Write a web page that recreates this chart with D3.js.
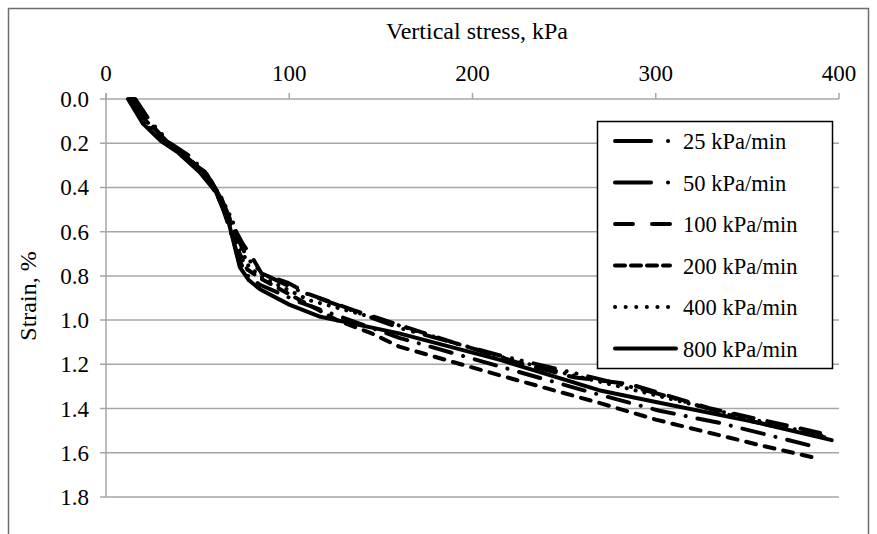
<!DOCTYPE html>
<html>
<head>
<meta charset="utf-8">
<script src="https://cdn.jsdelivr.net/npm/d3@7"></script>
<style>
body { margin: 0; background: #fff; }
</style>
</head>
<body>
<div id="chart"></div>
<script>
let WIDTH = 877;
let HEIGHT = 534;

var xTicks = [0, 100, 200, 300, 400];
var yTicks = [0, 0.2, 0.4, 0.6, 0.8, 1.0, 1.2, 1.4, 1.6, 1.8];
var seriesNames = ["25 kPa/min", "50 kPa/min", "100 kPa/min", "200 kPa/min", "400 kPa/min", "800 kPa/min"];

// [vertical stress kPa, strain %]
var s25 = [[14,0],[22,0.12],[33,0.19],[44,0.27],[54,0.33],[62,0.45],[68,0.6],[72,0.71],[76,0.79],[84,0.84],[106,0.92],[160,1.08],[215,1.21],[266,1.33],[302,1.41],[335,1.465],[388,1.575]];
var s50 = [[16,0],[24,0.1],[35,0.2],[46,0.26],[56,0.35],[64,0.47],[70,0.6],[76,0.7],[80,0.75],[88,0.8],[106,0.87],[160,1.035],[215,1.16],[266,1.26],[300,1.33],[351,1.455],[392,1.53]];
var s100 = [[15,0],[23,0.1],[34,0.2],[45,0.27],[55,0.34],[63,0.45],[69,0.57],[75,0.66],[80,0.72],[85,0.79],[99,0.83],[110,0.88],[135,0.955],[191,1.105],[224,1.19],[255,1.258],[286,1.29],[330,1.4],[395,1.52]];
var s200 = [[14,0],[22,0.1],[32,0.18],[42,0.26],[52,0.32],[61,0.44],[68,0.57],[73,0.7],[77,0.77],[84,0.81],[95,0.86],[106,0.91],[126,1.0],[145,1.06],[160,1.12],[215,1.25],[269,1.374],[300,1.45],[357,1.566],[388,1.625]];
var s400 = [[13,0],[21,0.1],[31,0.19],[43,0.25],[53,0.33],[62,0.43],[69,0.55],[74,0.68],[78,0.76],[86,0.81],[111,0.91],[151,1.0],[177,1.07],[213,1.16],[243,1.226],[300,1.34],[351,1.445],[392,1.525]];
var s800 = [[12,0],[20,0.11],[30,0.19],[39,0.24],[51,0.33],[60,0.42],[67,0.56],[73,0.76],[78,0.82],[84,0.86],[100,0.93],[117,0.985],[160,1.06],[215,1.18],[269,1.317],[300,1.37],[357,1.466],[396,1.543]];

var seriesData = [s25, s50, s100, s200, s400, s800];

var plotDash = ["22,12,0.1,12", "22,12,0.1,10,0.1,12", "20,14", "10,9", "0.1,9", null];
var legendDash = ["36,17,0.1,17", "36,17,0.1,17", "18,19", "10,6", "0.1,10.5", null];

var FONT = "'Liberation Serif', 'Times New Roman', 'DejaVu Serif', serif";

var svg = d3.select("#chart").append("svg")
	.attr("width", WIDTH)
	.attr("height", HEIGHT)
	.attr("font-family", FONT);

// outer frame
svg.append("rect")
	.attr("x", 8.5).attr("y", 8.5)
	.attr("width", 860).attr("height", 600)
	.attr("fill", "none").attr("stroke", "#6e6e6e").attr("stroke-width", 1.5);

var x = d3.scaleLinear().domain([0, 400]).range([106, 839]);
var y = d3.scaleLinear().domain([0, 1.8]).range([99, 497]);

// gridlines
svg.append("g").selectAll("line")
	.data(yTicks)
	.enter().append("line")
	.attr("x1", x(0) - 6).attr("x2", x(400))
	.attr("y1", d => y(d)).attr("y2", d => y(d))
	.attr("stroke", "#a6a6a6").attr("stroke-width", 1.5);

// y axis line
svg.append("line")
	.attr("x1", x(0)).attr("x2", x(0))
	.attr("y1", y(0) - 6).attr("y2", y(1.8))
	.attr("stroke", "#a6a6a6").attr("stroke-width", 1.5);

// top ticks
svg.append("g").selectAll("line")
	.data(xTicks)
	.enter().append("line")
	.attr("x1", d => x(d)).attr("x2", d => x(d))
	.attr("y1", y(0) - 6).attr("y2", y(0))
	.attr("stroke", "#a6a6a6").attr("stroke-width", 1.5);

svg.append("g").selectAll("text")
	.data(xTicks)
	.enter().append("text")
	.attr("x", d => x(d)).attr("y", 81)
	.attr("text-anchor", "middle")
	.attr("font-size", 23)
	.text(d => d);

svg.append("g").selectAll("text")
	.data(yTicks)
	.enter().append("text")
	.attr("x", 89).attr("y", d => y(d) + 8)
	.attr("text-anchor", "end")
	.attr("font-size", 23)
	.text(d => d.toFixed(1));

svg.append("text")
	.attr("x", 477).attr("y", 39)
	.attr("text-anchor", "middle")
	.attr("font-size", 24)
	.text("Vertical stress, kPa");

svg.append("text")
	.attr("transform", "translate(36," + 296 + ") rotate(-90)")
	.attr("text-anchor", "middle")
	.attr("font-size", 24)
	.text("Strain, %");

var line = d3.line()
	.x(d => x(d[0]))
	.y(d => y(d[1]));

svg.append("g").selectAll("path")
	.data(seriesData)
	.enter().append("path")
	.attr("d", line)
	.attr("fill", "none")
	.attr("stroke", "#000")
	.attr("stroke-width", 4)
	.attr("stroke-linecap", "round")
	.attr("stroke-linejoin", "round")
	.attr("stroke-dasharray", (d, i) => plotDash[i]);

// legend
var legend = svg.append("g");
legend.append("rect")
	.attr("x", 597.5).attr("y", 121.5)
	.attr("width", 235).attr("height", 247)
	.attr("fill", "#fff").attr("stroke", "#000").attr("stroke-width", 1.5);

var rows = legend.selectAll("g.row")
	.data(seriesNames)
	.enter().append("g")
	.attr("class", "row")
	.attr("transform", (d, i) => "translate(0," + (141 + i * 41.5) + ")");

rows.append("line")
	.attr("x1", 615).attr("x2", (d, i) => i == 5 ? 676 : 670)
	.attr("y1", 0).attr("y2", 0)
	.attr("stroke", "#000")
	.attr("stroke-width", 4)
	.attr("stroke-linecap", "round")
	.attr("stroke-dasharray", (d, i) => legendDash[i]);

rows.append("text")
	.attr("x", 683).attr("y", 8)
	.attr("font-size", 22.5)
	.text(d => d);
</script>
</body>
</html>
